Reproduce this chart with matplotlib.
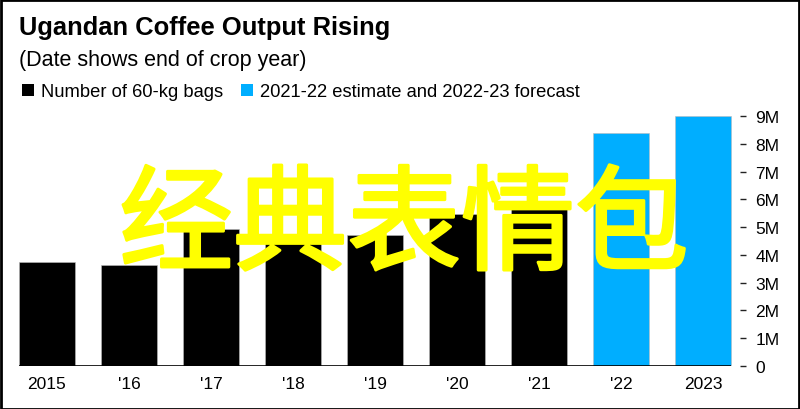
import matplotlib
matplotlib.use("Agg")
import matplotlib.pyplot as plt
from matplotlib.patches import Rectangle
import matplotlib.patheffects as pe

years = ["2015", "'16", "'17", "'18", "'19", "'20", "'21", "'22", "2023"]
bags_m = [3.74, 3.63, 4.93, 4.71, 4.71, 5.47, 5.65, 8.40, 9.00]
is_forecast = [False, False, False, False, False, False, False, True, True]
yticks = [0, 1, 2, 3, 4, 5, 6, 7, 8, 9]
ytick_labels = ["0", "1M", "2M", "3M", "4M", "5M", "6M", "7M", "8M", "9M"]

title = "Ugandan Coffee Output Rising"
subtitle = "(Date shows end of crop year)"
legend_labels = ["Number of 60-kg bags", "2021-22 estimate and 2022-23 forecast"]
overlay = "经典表情包"

BLACK = "#000000"
BLUE = "#00AEFF"
YELLOW = "#FFFF00"

plt.rcParams["font.family"] = ["Liberation Sans", "DejaVu Sans"]

W, H = 800, 410
fig = plt.figure(figsize=(W / 100, H / 100), dpi=100)

left, right, top, bottom = 19, 740, 110, 367
ax = fig.add_axes([left / W, 1 - bottom / H, (right - left) / W, (bottom - top) / H])

x = list(range(len(years)))
colors = [BLUE if f else BLACK for f in is_forecast]
width = 0.68
ax.bar(x, bags_m, width=width, color=colors, edgecolor="#BBBBBB", linewidth=0.4, zorder=2)
ax.hlines(0, x[0] - width / 2, x[-1] + width / 2, color=BLACK, linewidth=1.2, zorder=3)

ax.set_xlim(x[0] - width / 2, 8.45)
ax.set_ylim(0, 9.25)
for s in ax.spines.values():
    s.set_visible(False)

ax.set_xticks(x)
ax.set_xticklabels(years, fontsize=12.5)
ax.tick_params(axis="x", length=0, pad=7)

ax.yaxis.tick_right()
ax.set_yticks(yticks)
ax.set_yticklabels(ytick_labels, fontsize=12.5)
ax.tick_params(axis="y", length=4, width=1, pad=7, color="#222222")

# title, subtitle
fig.text(19 / W, 1 - 35 / H, title, fontsize=18.4, fontweight="bold", ha="left", va="baseline")
fig.text(19 / W, 1 - 66 / H, subtitle, fontsize=15.5, ha="left", va="baseline")

# legend
ly = 97
fig.patches.append(Rectangle((22 / W, 1 - ly / H), 12 / W, 12 / H, transform=fig.transFigure,
                             facecolor=BLACK, edgecolor="none"))
fig.text(41 / W, 1 - ly / H, legend_labels[0], fontsize=13.2, ha="left", va="baseline")
fig.patches.append(Rectangle((241 / W, 1 - ly / H), 12 / W, 12 / H, transform=fig.transFigure,
                             facecolor=BLUE, edgecolor="none"))
fig.text(260 / W, 1 - ly / H, legend_labels[1], fontsize=13.2, ha="left", va="baseline")

# overlay text
fig.text(404 / W, 1 - 229 / H, overlay, fontsize=82, color=YELLOW,
         family=["Noto Sans CJK SC", "DejaVu Sans"], ha="center", va="center", zorder=10,
         path_effects=[pe.withStroke(linewidth=2.2, foreground=YELLOW)])

# frame
fig.patches.append(Rectangle((0.5 / W, 0.5 / H), 1 - 1.5 / W, 1 - 1.5 / H, transform=fig.transFigure,
                             facecolor="none", edgecolor=BLACK, linewidth=2))

fig.savefig("out.png", dpi=100)
